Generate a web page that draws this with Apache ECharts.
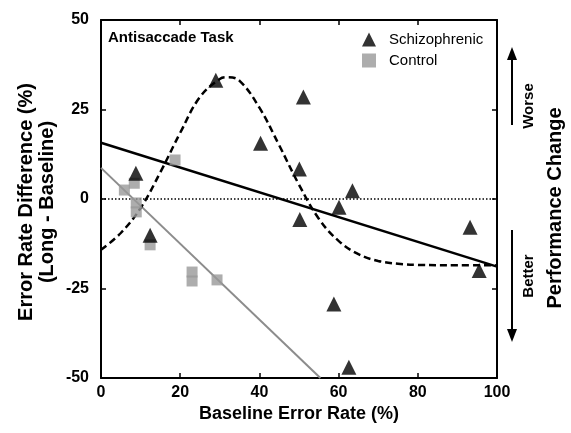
<!DOCTYPE html>
<html>
<head>
<meta charset="utf-8">
<script src="https://cdn.jsdelivr.net/npm/echarts@6/dist/echarts.min.js"></script>
<style>html,body{margin:0;padding:0;background:#fff}#c{width:571px;height:433px}</style>
</head>
<body>
<div id="c"></div>
<script>
// ---- data ----
const xTicks = [0, 20, 40, 60, 80, 100];
const yTicks = [-50, -25, 0, 25, 50];
const schizophrenic = [
  [29.0, 33.2], [51.1, 28.5], [40.3, 15.6], [50.1, 8.4], [8.8, 7.2],
  [12.4, -10.1], [63.5, 2.3], [60.1, -2.3], [50.2, -5.7], [58.8, -29.3],
  [62.6, -47.0], [93.2, -7.9], [95.5, -20.0]
];
const control = [
  [18.7, 10.9], [8.4, 4.4], [5.9, 2.5], [8.9, -1.1], [8.9, -3.6],
  [12.4, -12.8], [23.0, -20.4], [23.0, -22.9], [29.3, -22.6]
];
const schizFit = [[0, 15.7], [100, -18.9]];
const controlFit = [[0, 8.7], [55.4, -50]];
const curveX = [0, 5, 10, 15, 20, 25, 30, 32, 35, 40, 45, 50, 55, 60, 65, 70, 75, 80, 90, 100];
const curveY = [-14.2, -9.5, -2.5, 7.5, 18.5, 28.5, 33.5, 34.0, 33.0, 25.5, 15, 4, -5.5, -11.7, -15.4, -17.3, -18.1, -18.4, -18.5, -18.5];
const zeroLine = [[0, 0], [100, 0]];

const FONT = 'Liberation Sans, Arial, Helvetica, sans-serif';
const chart = echarts.init(document.getElementById('c'), null, {renderer: 'canvas'});
const axisCommon = {
  axisLine: {show: true, onZero: false, lineStyle: {color: '#000', width: 2}},
  axisTick: {show: true, inside: true, length: 5, lineStyle: {color: '#000', width: 1.5}},
  splitLine: {show: false}
};
chart.setOption({
  animation: false,
  backgroundColor: '#fff',
  grid: {left: 101, right: 74, top: 20, bottom: 55},
  legend: {
    orient: 'vertical', left: 357, top: 27, itemGap: 6, itemWidth: 14, itemHeight: 14,
    data: [{name: 'Schizophrenic', icon: 'triangle'}, {name: 'Control', icon: 'rect'}],
    textStyle: {fontFamily: FONT, fontSize: 15, color: '#000', padding: [0, 0, 0, 8]}
  },
  xAxis: [
    Object.assign({type: 'value', min: 0, max: 100, interval: 20, position: 'bottom',
      axisLabel: {fontFamily: FONT, fontWeight: 'bold', fontSize: 16, color: '#000', margin: 7}}, axisCommon),
    Object.assign({type: 'value', min: 0, max: 100, interval: 20, position: 'top',
      axisLabel: {show: false}}, axisCommon)
  ],
  yAxis: [
    Object.assign({type: 'value', min: -50, max: 50, interval: 25, position: 'left',
      axisLabel: {fontFamily: FONT, fontWeight: 'bold', fontSize: 16, color: '#000', margin: 12}}, axisCommon),
    Object.assign({type: 'value', min: -50, max: 50, interval: 25, position: 'right',
      axisLabel: {show: false}}, axisCommon)
  ],
  graphic: [
    {type: 'text', x: 108, y: 38, style: {text: 'Antisaccade Task', font: 'bold 15px ' + FONT, fill: '#000', align: 'left', verticalAlign: 'middle'}},
    {type: 'text', x: 299, y: 414, style: {text: 'Baseline Error Rate (%)', font: 'bold 18px ' + FONT, fill: '#000', align: 'center', verticalAlign: 'middle'}},
    {type: 'text', x: 26, y: 202, rotation: Math.PI / 2, style: {text: 'Error Rate Difference (%)', font: 'bold 20px ' + FONT, fill: '#000', align: 'center', verticalAlign: 'middle'}},
    {type: 'text', x: 47, y: 202, rotation: Math.PI / 2, style: {text: '(Long - Baseline)', font: 'bold 20px ' + FONT, fill: '#000', align: 'center', verticalAlign: 'middle'}},
    {type: 'text', x: 555, y: 208, rotation: Math.PI / 2, style: {text: 'Performance Change', font: 'bold 20px ' + FONT, fill: '#000', align: 'center', verticalAlign: 'middle'}},
    {type: 'text', x: 529, y: 106, rotation: Math.PI / 2, style: {text: 'Worse', font: 'bold 15px ' + FONT, fill: '#000', align: 'center', verticalAlign: 'middle'}},
    {type: 'text', x: 529, y: 276, rotation: Math.PI / 2, style: {text: 'Better', font: 'bold 15px ' + FONT, fill: '#000', align: 'center', verticalAlign: 'middle'}},
    {type: 'line', shape: {x1: 512, y1: 125, x2: 512, y2: 58}, style: {stroke: '#000', lineWidth: 2}},
    {type: 'polygon', shape: {points: [[512, 47], [507, 60], [517, 60]]}, style: {fill: '#000'}},
    {type: 'line', shape: {x1: 512, y1: 230, x2: 512, y2: 330}, style: {stroke: '#000', lineWidth: 2}},
    {type: 'polygon', shape: {points: [[512, 342], [507, 329], [517, 329]]}, style: {fill: '#000'}}
  ],
  series: [
    {name: 'zero', type: 'line', data: zeroLine, symbol: 'none', silent: true,
      lineStyle: {color: '#000', width: 1.5, type: [1.5, 2]}, z: 1},
    {name: 'schizFit', type: 'line', data: schizFit, symbol: 'none',
      lineStyle: {color: '#000', width: 2.5}, z: 2},
    {name: 'controlFit', type: 'line', data: controlFit, symbol: 'none',
      lineStyle: {color: '#8c8c8c', width: 2}, z: 2},
    {name: 'curve', type: 'line', smooth: 0.4, symbol: 'none',
      data: curveX.map((x, i) => [x, curveY[i]]),
      lineStyle: {color: '#000', width: 2.5, type: [7, 4]}, z: 2},
    {name: 'Control', type: 'scatter', symbol: 'rect', symbolSize: 11, data: control,
      itemStyle: {color: '#999999'}, z: 3},
    {name: 'Schizophrenic', type: 'scatter', symbol: 'triangle', symbolSize: 15, data: schizophrenic,
      itemStyle: {color: '#000'}, z: 4}
  ]
});
</script>
</body>
</html>
